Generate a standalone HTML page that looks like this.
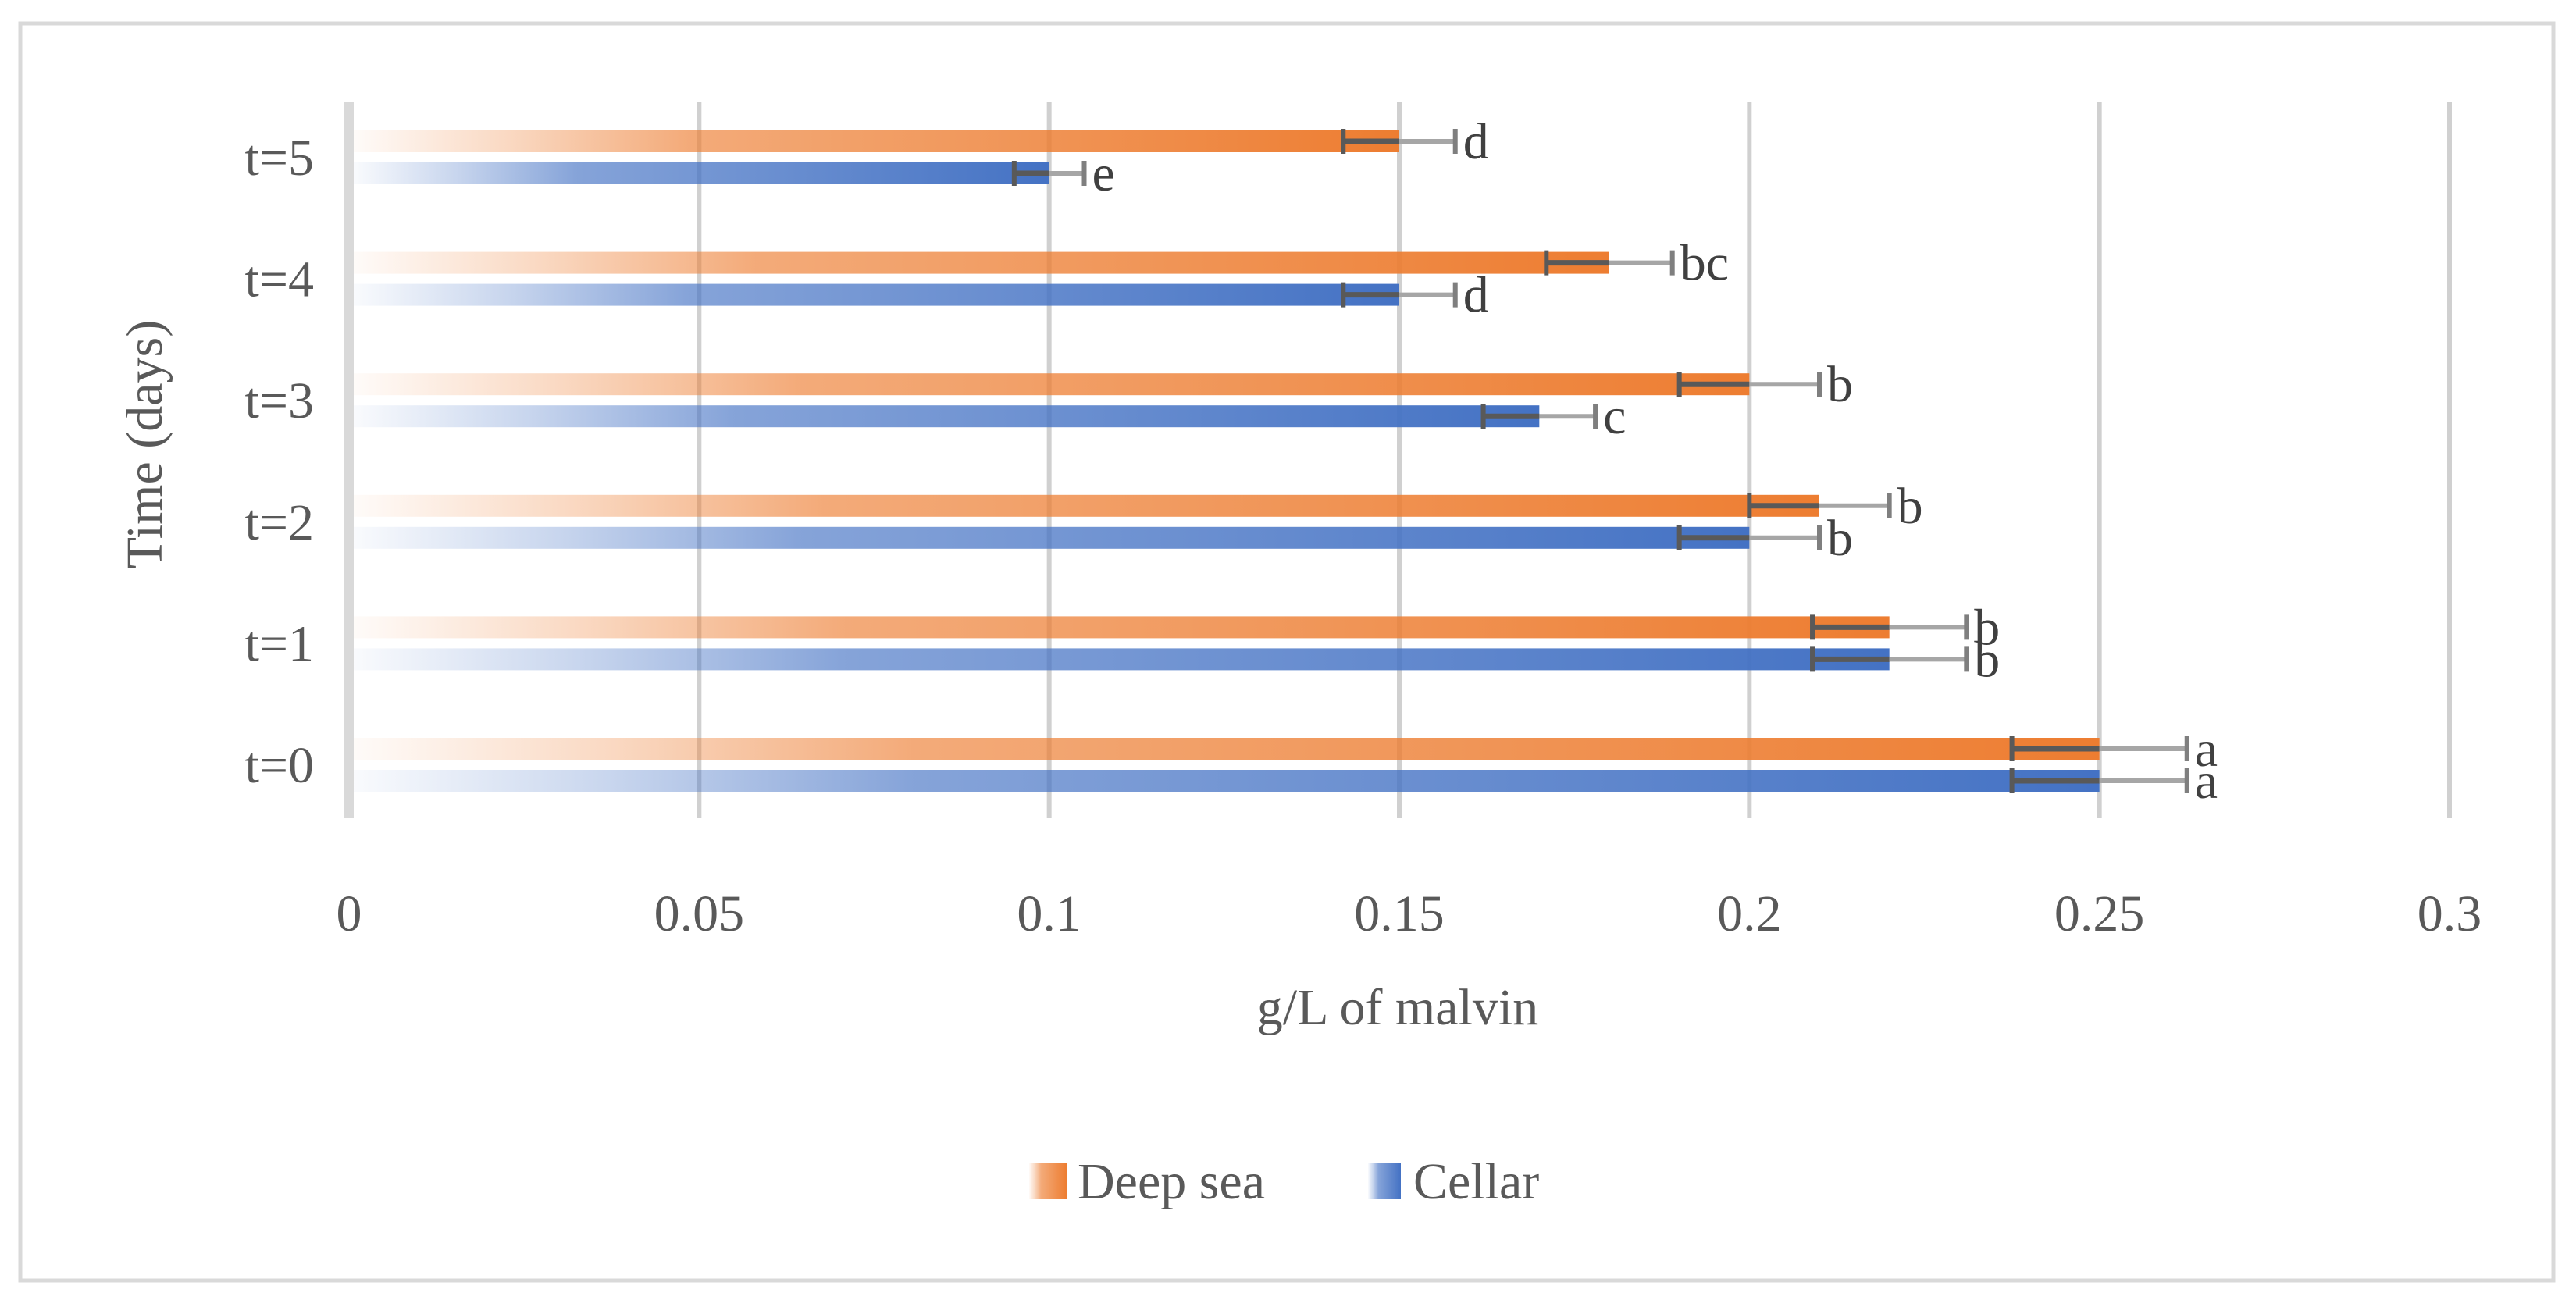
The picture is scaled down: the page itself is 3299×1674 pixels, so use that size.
<!DOCTYPE html>
<html><head><meta charset="utf-8"><style>
html,body{margin:0;padding:0;background:#fff;}
svg{display:block;font-family:"Liberation Serif",serif;}
</style></head><body>
<svg id="chart" width="3299" height="1674" viewBox="0 0 3299 1674">
<defs>
<linearGradient id="gOr" x1="0" x2="1" y1="0" y2="0">
<stop offset="0" stop-color="#ED7D31" stop-opacity="0.03"/>
<stop offset="0.15" stop-color="#ED7D31" stop-opacity="0.3"/>
<stop offset="0.32" stop-color="#ED7D31" stop-opacity="0.65"/>
<stop offset="1" stop-color="#ED7D31" stop-opacity="1"/>
</linearGradient>
<linearGradient id="gBl" x1="0" x2="1" y1="0" y2="0">
<stop offset="0" stop-color="#4472C4" stop-opacity="0.03"/>
<stop offset="0.15" stop-color="#4472C4" stop-opacity="0.3"/>
<stop offset="0.32" stop-color="#4472C4" stop-opacity="0.65"/>
<stop offset="1" stop-color="#4472C4" stop-opacity="1"/>
</linearGradient>
</defs>
<rect x="26" y="30" width="3244" height="1610" fill="#fff" stroke="#d9d9d9" stroke-width="5"/>
<g id="grid"></g><g id="bars"></g><g id="labels"></g>
<text x="1790" y="1312" font-size="66" fill="#595959" text-anchor="middle">g/L of malvin</text>
<text transform="translate(207,569) rotate(-90)" font-size="66" fill="#595959" text-anchor="middle">Time (days)</text>
<g>
<g>
<rect x="1318" y="1490" width="48" height="46" fill="url(#gOr)"/>
<text x="1380" y="1535" font-size="66" fill="#595959">Deep sea</text></g>
<g>
<rect x="1752" y="1490" width="42" height="46" fill="url(#gBl)"/>
<text x="1810" y="1535" font-size="66" fill="#595959">Cellar</text></g>
</g>
</svg>
<script>
const categories = ["t=0","t=1","t=2","t=3","t=4","t=5"];
const deepSea = [0.25,0.22,0.21,0.2,0.18,0.15];
const cellar = [0.25,0.22,0.2,0.17,0.15,0.1];
const deepSeaErr = [0.0125,0.011,0.01,0.01,0.009,0.008];
const cellarErr = [0.0125,0.011,0.01,0.008,0.008,0.005];
const deepSeaLetters = ["a","b","b","b","bc","d"];
const cellarLetters = ["a","b","b","c","d","e"];
const xTicks = [0,0.05,0.1,0.15,0.2,0.25,0.3];
const xTickLabels = ["0","0.05","0.1","0.15","0.2","0.25","0.3"];

const NS="http://www.w3.org/2000/svg";
const X0=447,X1=3137,XMAX=0.3,YT=131,YB=1048;
const xs=v=>X0+(X1-X0)*v/XMAX;
const band=155.6;
const yc=i=>980-band*i;
function mk(tag,attrs,parent){const e=document.createElementNS(NS,tag);for(const k in attrs)e.setAttribute(k,attrs[k]);parent.appendChild(e);return e;}
const grid=document.getElementById('grid'),bars=document.getElementById('bars'),labels=document.getElementById('labels');
xTicks.forEach((t,i)=>{
  const l=mk('line',{x1:xs(t),x2:xs(t),y1:YT,y2:YB,stroke:i===0?'#d9d9d9':'#d0d0d0','stroke-width':i===0?12:6},grid);
  
  
  const tx=mk('text',{x:xs(t),y:1192,'font-size':66,fill:'#595959','text-anchor':'middle'},labels);
  tx.textContent=xTickLabels[i];
  
  
});
categories.forEach((c,i)=>{
  const tx=mk('text',{x:402,y:yc(i)+22,'font-size':66,fill:'#595959','text-anchor':'end'},labels);
  tx.textContent=c;
  
  
  [[deepSea,deepSeaErr,deepSeaLetters,'url(#gOr)',-21,'deep-sea'],[cellar,cellarErr,cellarLetters,'url(#gBl)',20,'cellar']].forEach(([vals,errs,lets,fill,off,nm])=>{
    const v=vals[i],e=errs[i],y=yc(i)+off;
    const r=mk('rect',{x:X0+6,y:y-14,width:xs(v)-X0-6,height:28,fill:fill},bars);
    
    
    const g=mk('g',{},bars);
    
    
    mk('line',{x1:xs(v-e),x2:xs(v),y1:y,y2:y,stroke:'#595959','stroke-width':7},g);
    mk('line',{x1:xs(v),x2:xs(v+e),y1:y,y2:y,stroke:'#a6a6a6','stroke-width':6},g);
    mk('line',{x1:xs(v-e),x2:xs(v-e),y1:y-16,y2:y+16,stroke:'#595959','stroke-width':6},g);
    mk('line',{x1:xs(v+e),x2:xs(v+e),y1:y-16,y2:y+16,stroke:'#7f7f7f','stroke-width':6},g);
    const lt=mk('text',{x:xs(v+e)+10,y:y+22,'font-size':66,fill:'#404040'},labels);
    lt.textContent=lets[i];
    
    
  });
});
</script>
</body></html>
